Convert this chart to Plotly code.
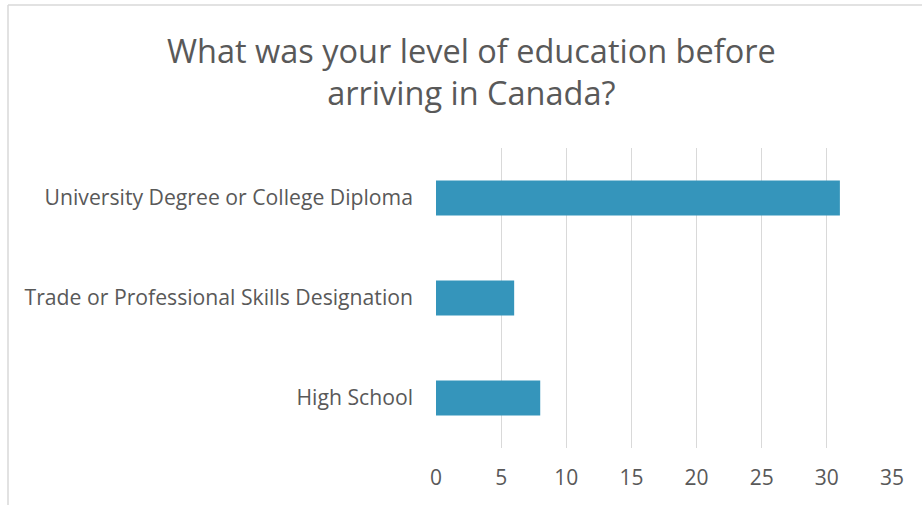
import plotly.graph_objects as go

categories = ["High School", "Trade or Professional Skills Designation", "University Degree or College Diploma"]
values = [8, 6, 31]
tick_vals = [0, 5, 10, 15, 20, 25, 30, 35]
title_text = "What was your level of education before<br>arriving in Canada?"

W, H = 922, 505
L, R, T, B = 436, 30, 148, 57
pw, ph = W - L - R, H - T - B

fig = go.Figure(go.Bar(
    y=categories, x=values, orientation="h",
    marker=dict(color="#3595bb", line=dict(width=0)),
    width=0.35,
))

font_fam = "Open Sans, Lato, sans-serif"
fig.update_layout(
    width=W, height=H,
    margin=dict(l=L, r=R, t=T, b=B, pad=0),
    paper_bgcolor="white", plot_bgcolor="white",
    showlegend=False,
    xaxis=dict(
        range=[0, 35], tickvals=tick_vals, showgrid=True,
        gridcolor="#d9d9d9", gridwidth=1.3, zeroline=False,
        showline=False, ticks="",
        tickfont=dict(family=font_fam, size=21, color="#595959"),
        ticklabelstandoff=15, fixedrange=True,
    ),
    yaxis=dict(
        categoryorder="array", categoryarray=categories,
        showgrid=False, zeroline=False, showline=False, ticks="",
        tickfont=dict(family=font_fam, size=21.2, color="#595959"),
        ticklabelstandoff=22, range=[-0.5, 2.5], fixedrange=True,
    ),
)

fig.add_annotation(
    text=title_text, showarrow=False,
    xref="paper", yref="paper",
    x=(471 - L) / pw, xanchor="center",
    y=1 + (T - 72) / ph, yanchor="middle",
    align="center",
    font=dict(family=font_fam, size=32.5, color="#595959"),
)

# light chart border (left and top edges visible in the crop)
fig.add_shape(type="line", xref="paper", yref="paper",
              x0=(8 - L) / pw, x1=(8 - L) / pw, y0=1 + (T - 5) / ph, y1=-(B + 5) / ph,
              line=dict(color="#d9d9d9", width=1.5))
fig.add_shape(type="line", xref="paper", yref="paper",
              x0=(8 - L) / pw, x1=(W + 5 - L) / pw, y0=1 + (T - 5) / ph, y1=1 + (T - 5) / ph,
              line=dict(color="#d9d9d9", width=1.5))

fig.write_html("out.html")
